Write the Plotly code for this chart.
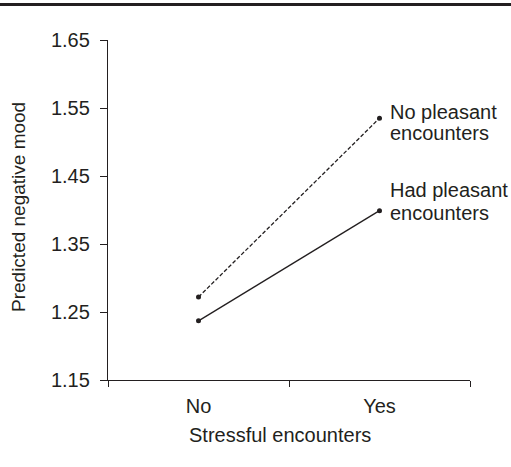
import plotly.graph_objects as go

categories = ["No", "Yes"]
no_pleasant = [1.272, 1.535]
had_pleasant = [1.237, 1.399]
y_ticks = [1.15, 1.25, 1.35, 1.45, 1.55, 1.65]
y_tick_labels = ["1.15", "1.25", "1.35", "1.45", "1.55", "1.65"]

FONT = "Liberation Sans, Arial, sans-serif"
TXT = "#231f20"
W, H = 511, 467
L, R, T, B = 108, 41, 40, 87
PW, PH = W - L - R, H - T - B

fig = go.Figure()
fig.add_trace(go.Scatter(
    x=categories, y=no_pleasant, mode="lines+markers",
    line=dict(color="#231f20", width=1.3, dash="4px,2px"),
    marker=dict(color="#231f20", size=5),
    showlegend=False))
fig.add_trace(go.Scatter(
    x=categories, y=had_pleasant, mode="lines+markers",
    line=dict(color="#231f20", width=1.3),
    marker=dict(color="#231f20", size=5),
    showlegend=False))

def py(pix):
    return (T + PH - pix) / PH

def px(pix):
    return (pix - L) / PW

annotations = [
    dict(text="No pleasant", x=1, xref="x", xshift=8, y=1.544, yref="y", xanchor="left", yanchor="middle", showarrow=False),
    dict(text="encounters", x=1, xref="x", xshift=8, y=1.513, yref="y", xanchor="left", yanchor="middle", showarrow=False),
    dict(text="Had pleasant", x=1, xref="x", xshift=8, y=1.429, yref="y", xanchor="left", yanchor="middle", showarrow=False),
    dict(text="encounters", x=1, xref="x", xshift=8, y=1.396, yref="y", xanchor="left", yanchor="middle", showarrow=False),
    dict(text="Stressful encounters", x=px(280), y=py(435), xref="paper", yref="paper",
         xanchor="center", yanchor="middle", showarrow=False),
    dict(text="Predicted negative mood", x=px(18), y=py(207), xref="paper", yref="paper",
         xanchor="center", yanchor="middle", textangle=-90, showarrow=False,
         font=dict(family=FONT, size=19, color=TXT)),
]
for a in annotations:
    a.setdefault("font", dict(family=FONT, size=20, color=TXT))

fig.update_layout(
    width=W, height=H,
    margin=dict(l=L, r=R, t=T, b=B, pad=0),
    paper_bgcolor="white", plot_bgcolor="white",
    font=dict(family=FONT, size=20, color=TXT),
    annotations=annotations,
    shapes=[dict(type="line", xref="paper", yref="paper",
                 x0=px(0), x1=px(W), y0=py(4.5), y1=py(4.5),
                 line=dict(color="#231f20", width=3))],
)
fig.update_xaxes(
    type="category", range=[-0.5, 1.5], tickson="boundaries",
    showline=True, linecolor="#231f20", linewidth=1.3,
    ticks="outside", ticklen=6, tickwidth=1.3, tickcolor="#231f20",
    showgrid=False, zeroline=False, ticklabelstandoff=8,
    tickfont=dict(family=FONT, size=20, color=TXT))
fig.update_yaxes(
    range=[1.15, 1.65], tickvals=y_ticks, ticktext=y_tick_labels,
    showline=True, linecolor="#231f20", linewidth=1.3,
    ticks="outside", ticklen=7, tickwidth=1.3, tickcolor="#231f20",
    showgrid=False, zeroline=False, ticklabelstandoff=6,
    tickfont=dict(family=FONT, size=20, color=TXT))

fig.write_html("out.html", config={"displayModeBar": False},
               post_script="document.body.style.margin='0';document.body.style.padding='0';")
